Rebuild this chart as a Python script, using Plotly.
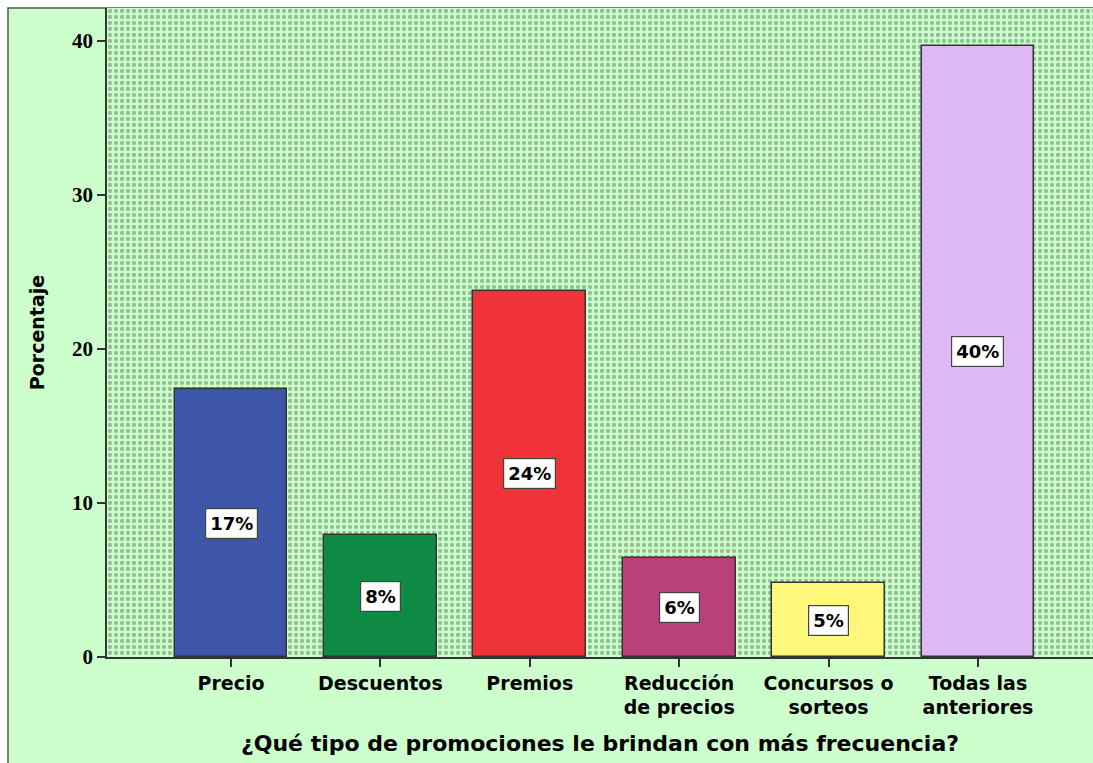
import plotly.graph_objects as go

# Survey results: most frequent type of promotion offered
categorias = ["Precio", "Descuentos", "Premios", "Reducción<br>de precios",
              "Concursos o<br>sorteos", "Todas las<br>anteriores"]
porcentajes = [17.4, 7.9, 23.8, 6.4, 4.8, 39.7]
colores = ["#3d56a8", "#0f8a44", "#ef3339", "#b9407b", "#fdf87a", "#ddb8f2"]
y_ticks = [0, 10, 20, 30, 40]

W, H = 1093, 763
ML, MR, MT, MB = 107, 0, 8, 106
x_range = [-0.83, 5.77]
y_range = [0, 42.15]

sans = "DejaVu Sans, Verdana, sans-serif"
serif = "Liberation Serif, Times New Roman, serif"
x_idx = list(range(len(categorias)))

fig = go.Figure()

# dotted plot-area background drawn as a full-width patterned bar
fig.add_trace(go.Bar(
    x=[(x_range[0] + x_range[1]) / 2], y=[y_range[1]],
    width=[x_range[1] - x_range[0]],
    marker=dict(color="#ccffcc", line=dict(width=0),
                pattern=dict(shape=".", fgcolor="#58825b", bgcolor="#ccffcc",
                             size=6, solidity=0.4)),
    hoverinfo="skip", showlegend=False,
))

fig.add_trace(go.Bar(
    x=x_idx, y=porcentajes, width=0.756,
    marker=dict(color=colores, line=dict(color="#333333", width=1.5)),
    showlegend=False,
))

# value labels in white boxes at mid-height of each bar
for xi, v in zip(x_idx, porcentajes):
    fig.add_annotation(
        x=xi, y=v / 2, text=f"{round(v)}%", showarrow=False,
        font=dict(family=sans, size=18, color="black", weight="bold"),
        bgcolor="white", bordercolor="#444444", borderwidth=1.2, borderpad=4,
    )

# outer frame of the chart
fig.add_shape(type="rect", xref="paper", yref="paper", layer="below",
              x0=(8 - ML) / (W - ML - MR), x1=1.02,
              y0=-(MB + 20) / (H - MT - MB), y1=1.0,
              line=dict(color="#555555", width=1.5), fillcolor="#ccffcc")

fig.update_layout(
    width=W, height=H,
    margin=dict(l=ML, r=MR, t=MT, b=MB),
    paper_bgcolor="white", plot_bgcolor="#ccffcc",
    barmode="overlay", bargap=0,
    font=dict(family=sans, color="black"),
    xaxis=dict(
        range=x_range, tickvals=x_idx, ticktext=categorias,
        ticks="outside", ticklen=8, tickwidth=1.5, tickcolor="#333333",
        showline=True, linecolor="#333333", linewidth=1.5,
        showgrid=False, zeroline=False,
        tickfont=dict(family=sans, size=19, weight="bold"),
        title=dict(text="¿Qué tipo de promociones le brindan con más frecuencia?",
                   font=dict(family=sans, size=22, weight="bold"), standoff=18),
    ),
    yaxis=dict(
        range=y_range, tickvals=y_ticks,
        ticks="outside", ticklen=8, tickwidth=1.5, tickcolor="#333333",
        showline=True, linecolor="#333333", linewidth=1.5,
        showgrid=False, zeroline=False,
        tickfont=dict(family=serif, size=21, weight="bold"),
        title=dict(text="Porcentaje", font=dict(family=sans, size=19, weight="bold"),
                   standoff=22),
    ),
)

fig.write_html("out.html")
